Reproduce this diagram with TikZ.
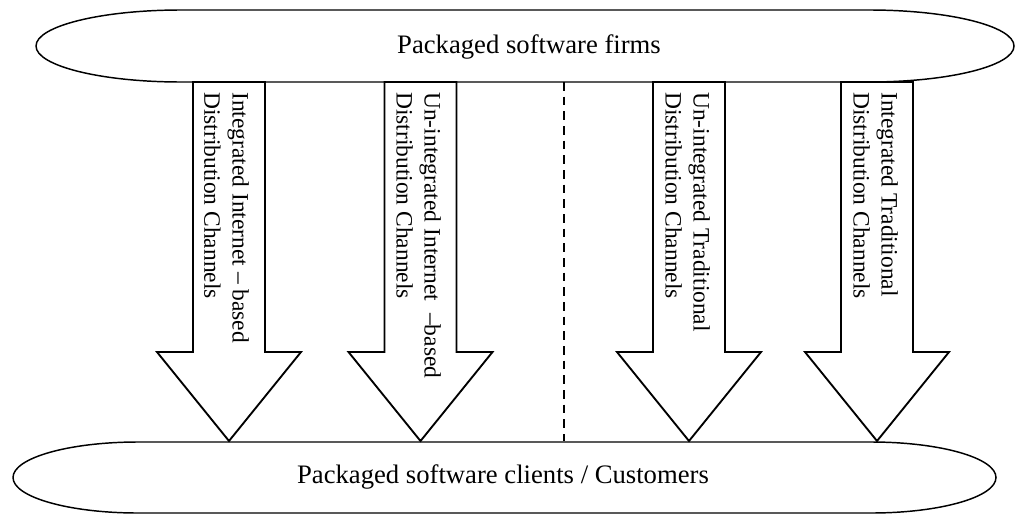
\documentclass[tikz,border=0pt]{standalone}
\usepackage{fontspec}
\setmainfont{Liberation Serif}
\begin{document}
\begin{tikzpicture}[x=0.75pt,y=-0.75pt,
  shapeline/.style={draw=black,line width=1.1pt},
  arrowshape/.style={draw=black,fill=white,line width=1.4pt,line join=miter},
  dashline/.style={draw=black,line width=1.1pt,dash pattern=on 6.5pt off 4.5pt},
  lbl/.style={font=\fontsize{17.6}{21}\selectfont, rotate=-90, anchor=south west, inner sep=0pt, align=left},
  title/.style={font=\fontsize{20}{24}\selectfont, anchor=base, inner sep=0pt}]
\useasboundingbox (0,0) rectangle (1016,514);
% top shape
\draw[shapeline] (181,10) -- (869,10) arc[start angle=-90,end angle=90,x radius=145,y radius=36]
  -- (181,82) arc[start angle=90,end angle=270,x radius=145,y radius=36] -- cycle;
\node[title] (firms) at (529,53) {Packaged software firms};
% bottom shape
\draw[shapeline] (138,442) -- (871,442) arc[start angle=-90,end angle=90,x radius=125,y radius=35.5]
  -- (138,513) arc[start angle=90,end angle=270,x radius=125,y radius=35.5] -- cycle;
\node[title] (clients) at (503,483) {Packaged software clients / Customers};
% arrows
\draw[arrowshape] (193,82) -- (265,82) -- (265,352) -- (301,352) -- (229,441) -- (157,352) -- (193,352) -- cycle;
\draw[arrowshape] (384.5,82) -- (456.5,82) -- (456.5,352) -- (492.5,352) -- (420.5,441) -- (348.5,352) -- (384.5,352) -- cycle;
\draw[arrowshape] (653,82) -- (725,82) -- (725,352) -- (761,352) -- (689,441) -- (617,352) -- (653,352) -- cycle;
\draw[arrowshape] (841,82) -- (913,82) -- (913,352) -- (949,352) -- (877,441) -- (805,352) -- (841,352) -- cycle;
% dashed divider
\coordinate (dtop) at (564,82);
\coordinate (dbot) at (564,441);
\draw[dashline] (dtop) -- (dbot);
% labels
\node[lbl] (l1) at (204,92) {Integrated Internet \textendash{} based\\Distribution Channels};
\node[lbl] (l2) at (396,92) {Un-integrated Internet\ \ \textendash based\\Distribution Channels};
\node[lbl] (l3) at (665,92) {Un-integrated Traditional\\Distribution Channels};
\node[lbl] (l4) at (853,92) {Integrated Traditional\\Distribution Channels};
\end{tikzpicture}
\end{document}
